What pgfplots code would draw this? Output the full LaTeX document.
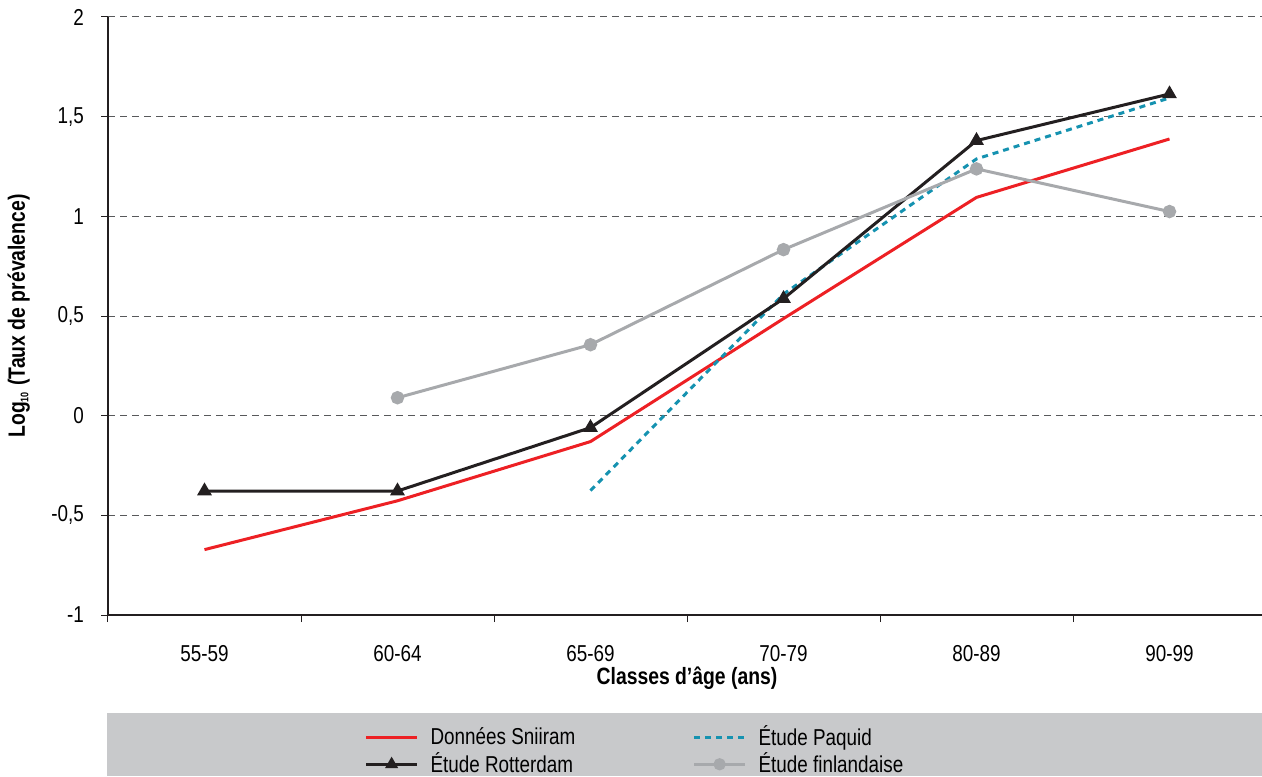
\documentclass[border=0pt]{standalone}
\usepackage{fontspec}
\setmainfont{Liberation Sans}[FakeStretch=0.82]
\usepackage{pgfplots}
\pgfplotsset{compat=1.18}
\definecolor{cred}{HTML}{ED2024}
\definecolor{cblack}{HTML}{231F20}
\definecolor{cteal}{HTML}{1592B0}
\definecolor{cgray}{HTML}{A7A9AC}
\definecolor{legbg}{HTML}{C8C9CB}
\definecolor{gridc}{HTML}{58595B}
\begin{document}
\begin{tikzpicture}
\useasboundingbox (0,0) rectangle (631pt,388pt);
\fill[legbg] (53.5pt,0pt) rectangle (631pt,31.5pt);
\begin{axis}[
  at={(54pt,80.5pt)}, anchor=south west,
  scale only axis, width=579pt, height=299pt,
  xmin=-0.5, xmax=5.5, ymin=-1, ymax=2,
  axis lines=left, axis line style={-, cblack, line width=0.6pt},
  xtick={-0.5,0.5,...,5.5}, x tick label as interval,
  xticklabels={55-59,60-64,65-69,70-79,80-89,90-99},
  ytick={-1,-0.5,0,0.5,1,1.5,2},
  yticklabels={-1,{-0,5},0,{0,5},1,{1,5},2},
  tick align=outside, major tick length=3.5pt,
  tick style={cblack, line width=0.5pt},
  ymajorgrids, grid style={gridc, line width=0.5pt, dash pattern=on 3.5pt off 2.5pt},
  xticklabel style={font=\fontsize{11.5}{13}\selectfont, yshift=-8pt},
  yticklabel style={font=\fontsize{11.5}{13}\selectfont, xshift=-5pt},
  xlabel={\textbf{Classes d’âge (ans)}},
  ylabel={\textbf{Log\textsubscript{\fontsize{5.5}{6}\selectfont 10} (Taux de prévalence)}},
  every axis x label/.style={at={(axis description cs:0.5,-0.1054)}, anchor=center, font=\fontsize{11.8}{13}\selectfont},
  every axis y label/.style={at={(axis description cs:-0.0771,0.5)}, anchor=center, rotate=90, font=\fontsize{11.8}{13}\selectfont},
  clip=false,
  legend columns=2,
  legend style={draw=none, fill=none, at={(axis description cs:0.2216,-0.182)}, anchor=north west,
    inner sep=0pt, outer sep=0pt, row sep=0pt,
    font=\fontsize{11.5}{13}\selectfont,
    nodes={inner ysep=1pt, inner xsep=6pt, anchor=west}},
  legend cell align=left,
  legend image code/.code={\draw[mark repeat=2,mark phase=2,mark size=2.3pt,#1] plot coordinates {(0pt,0pt) (12.75pt,0pt) (25.5pt,0pt)};},
]
\addplot[cred, line width=1.5pt] coordinates {(0,-0.672) (1,-0.427) (2,-0.13) (3,0.487) (4,1.095) (5,1.388)};
\addlegendentry{\makebox[125pt][l]{Données Sniiram}}
\addplot[cteal, line width=1.5pt, dash pattern=on 3pt off 2.5pt] coordinates {(2,-0.376) (3,0.61) (4,1.288) (5,1.594)};
\addlegendentry{Étude Paquid}
\addplot[cblack, line width=1.5pt, mark=triangle*, mark size=2.8pt, mark options={solid}] coordinates {(0,-0.378) (1,-0.378) (2,-0.06) (3,0.587) (4,1.38) (5,1.614)};
\addlegendentry{\makebox[125pt][l]{Étude Rotterdam}}
\addplot[cgray, line width=1.5pt, mark=*, mark size=2.6pt, mark options={solid}] coordinates {(1,0.09) (2,0.356) (3,0.833) (4,1.238) (5,1.024)};
\addlegendentry{Étude finlandaise}
\end{axis}
\end{tikzpicture}
\end{document}
